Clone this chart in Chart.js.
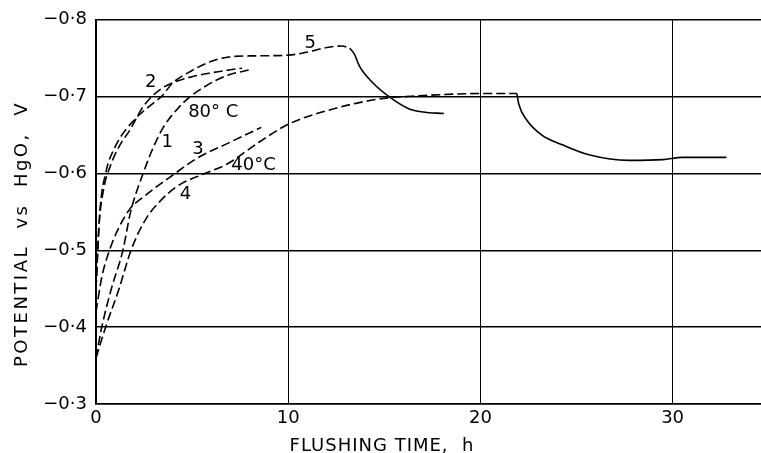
<!DOCTYPE html>
<html>
<head>
<meta charset="utf-8">
<script src="https://cdn.jsdelivr.net/npm/chart.js@4/dist/chart.umd.min.js"></script>
<style>
  body { margin: 0; background: #fff; }
  #wrap { width: 761px; height: 453px; }
</style>
</head>
<body>
<div id="wrap"><canvas id="flushChart" width="761" height="453"></canvas></div>
<script>
// flushing time (h) and potential vs HgO (V)
const c1Time = [0, 0.3, 0.8, 1.4, 1.8, 2.45, 3.0, 3.5, 4.2, 4.9, 5.6, 6.3, 7.0, 8.0];
const c1Pot  = [-0.36, -0.40, -0.45, -0.50, -0.55, -0.60, -0.635, -0.66, -0.683, -0.70, -0.712, -0.722, -0.729, -0.735];

const c2Time = [0, 0.15, 0.4, 0.75, 1.2, 1.8, 2.4, 2.9, 3.5, 4.2, 5.0, 6.0, 7.0, 7.6];
const c2Pot  = [-0.45, -0.53, -0.58, -0.61, -0.635, -0.658, -0.685, -0.70, -0.712, -0.72, -0.726, -0.731, -0.735, -0.737];

const c3Time = [0, 0.3, 0.7, 1.2, 1.8, 2.5, 3.0, 4.0, 5.2, 7.0, 8.6];
const c3Pot  = [-0.42, -0.465, -0.50, -0.53, -0.555, -0.57, -0.58, -0.598, -0.619, -0.641, -0.66];

const c4Time = [0, 0.5, 1.2, 1.82, 2.6, 3.3, 4.2, 5.66, 6.8, 8.5, 10.0, 12.2, 14.75, 16.8, 20.0, 21.9];
const c4Pot  = [-0.36, -0.40, -0.45, -0.50, -0.541, -0.563, -0.583, -0.60, -0.612, -0.641, -0.664, -0.683, -0.697, -0.701, -0.704, -0.704];
const c4bTime = [21.9, 22.0, 22.4, 23.2, 24.3, 25.7, 27.7, 29.5, 30.5, 32.8];
const c4bPot  = [-0.704, -0.69, -0.67, -0.65, -0.637, -0.624, -0.617, -0.618, -0.621, -0.621];

const c5Time = [0, 0.2, 0.5, 1.0, 2.0, 3.0, 3.4, 4.0, 5.0, 6.0, 7.0, 8.0, 10.0, 11.0, 12.0, 12.8, 13.2];
const c5Pot  = [-0.45, -0.55, -0.60, -0.635, -0.67, -0.692, -0.70, -0.718, -0.734, -0.746, -0.752, -0.753, -0.754, -0.758, -0.764, -0.766, -0.763];
const c5bTime = [13.2, 13.45, 13.7, 14.4, 15.3, 16.3, 17.0, 18.1];
const c5bPot  = [-0.763, -0.755, -0.74, -0.718, -0.699, -0.684, -0.68, -0.678];

const yTicks = [-0.8, -0.7, -0.6, -0.5, -0.4, -0.3];
const xTicks = [0, 10, 20, 30];

const curveNames = ['1', '2', '3', '4', '5', '80° C', '40°C'];
const nameTime   = [3.7, 2.85, 5.3, 4.65, 11.15, 6.1, 8.2];
const namePot    = [-0.641, -0.719, -0.632, -0.573, -0.77, -0.68, -0.611];

const pts = (xs, ys) => xs.map((x, i) => ({ x: x, y: ys[i] }));
const FONT = '"DejaVu Sans", sans-serif';

function curve(xs, ys, dashed) {
  return {
    data: pts(xs, ys),
    borderColor: '#000',
    borderWidth: 1.6,
    borderDash: dashed ? [9, 4] : [],
    pointRadius: 0,
    fill: false,
    cubicInterpolationMode: 'monotone'
  };
}

// curve numbers, temperatures and the two axis titles
const textPlugin = {
  id: 'figText',
  afterDatasetsDraw(chart) {
    const { ctx, scales } = chart;
    ctx.save();
    ctx.fillStyle = '#000';
    ctx.font = '18px ' + FONT;
    ctx.textAlign = 'center';
    ctx.textBaseline = 'middle';
    curveNames.forEach((t, i) => {
      ctx.fillText(t, scales.x.getPixelForValue(nameTime[i]), scales.y.getPixelForValue(namePot[i]));
    });

    ctx.letterSpacing = '1px';
    ctx.textBaseline = 'alphabetic';
    ctx.fillText('FLUSHING TIME,  h', 382, 451);

    ctx.translate(27, 234);
    ctx.rotate(-Math.PI / 2);
    ctx.letterSpacing = '2.5px';
    ctx.fillText('POTENTIAL  vs  HgO,  V', 0, 0);
    ctx.restore();
  }
};

new Chart(document.getElementById('flushChart'), {
  type: 'line',
  data: {
    datasets: [
      curve(c1Time, c1Pot, true),
      curve(c2Time, c2Pot, true),
      curve(c3Time, c3Pot, true),
      curve(c4Time, c4Pot, true),
      curve(c4bTime, c4bPot, false),
      curve(c5Time, c5Pot, true),
      curve(c5bTime, c5bPot, false)
    ]
  },
  options: {
    responsive: false,
    animation: false,
    layout: { padding: { top: 17, right: 0, left: 0, bottom: 0 } },
    plugins: { legend: { display: false }, tooltip: { enabled: false } },
    scales: {
      x: {
        type: 'linear',
        min: 0,
        max: 34.6,
        afterBuildTicks: s => { s.ticks = xTicks.map(v => ({ value: v })); },
        afterFit: s => { s.height = 49; },
        ticks: { color: '#000', font: { family: FONT, size: 18 }, padding: 4, callback: v => String(v) },
        grid: { color: '#000', lineWidth: 1, drawTicks: false },
        border: { color: '#000', width: 1.5 }
      },
      y: {
        type: 'linear',
        min: -0.8,
        max: -0.3,
        reverse: true,
        afterBuildTicks: s => { s.ticks = yTicks.map(v => ({ value: v })); },
        afterFit: s => { s.width = 96; },
        ticks: {
          color: '#000',
          font: { family: FONT, size: 18 },
          padding: 9,
          callback: v => '\u2212' + (-v).toFixed(1).replace('.', '·')
        },
        grid: { color: '#000', lineWidth: 1.5, drawTicks: false },
        border: { color: '#000', width: 1.5 }
      }
    }
  },
  plugins: [textPlugin]
});
</script>
</body>
</html>
